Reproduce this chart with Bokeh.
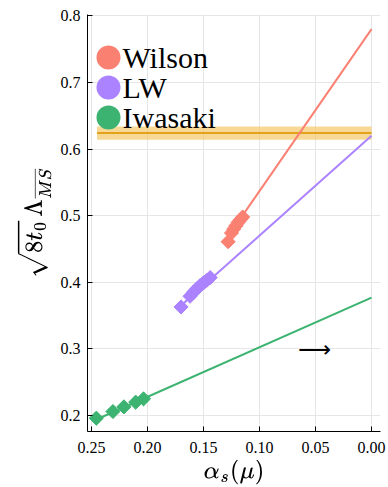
import numpy as np
from bokeh.plotting import figure
from bokeh.models import Range1d, Label, BoxAnnotation, FixedTicker
from bokeh.embed import file_html
from bokeh.resources import INLINE

# ---------------- data ----------------
names = ["Wilson", "LW", "Iwasaki"]

wilson_alpha = [0.128, 0.125, 0.123, 0.121, 0.119, 0.117, 0.115]
wilson_val = [0.461, 0.474, 0.480, 0.485, 0.490, 0.494, 0.498]

lw_alpha = [0.170, 0.162, 0.159, 0.156, 0.153, 0.150, 0.147, 0.144]
lw_val = [0.363, 0.379, 0.385, 0.390, 0.395, 0.399, 0.403, 0.407]

iw_alpha = [0.2456, 0.2308, 0.221, 0.2105, 0.2035]
iw_val = [0.196, 0.206, 0.213, 0.220, 0.225]

# continuum extrapolation: value at alpha=0 and slope d(value)/d(alpha)
fit_intercept = [0.780, 0.620, 0.377]
fit_slope = [-2.43, -1.50, -0.745]

# reference band
ref_value = 0.624
ref_error = 0.010
ref_alpha_span = [0.245, 0.0]

x_ticks = [0.25, 0.20, 0.15, 0.10, 0.05, 0.00]
x_tick_labels = ["0.25", "0.20", "0.15", "0.10", "0.05", "0.00"]
y_ticks = [0.2, 0.3, 0.4, 0.5, 0.6, 0.7, 0.8]
y_tick_labels = ["0.2", "0.3", "0.4", "0.5", "0.6", "0.7", "0.8"]

# ---------------- style ----------------
colors = ["#FA8072", "#AB82FF", "#3CB371"]
serif = "Liberation Serif"

p = figure(frame_width=293, frame_height=417, output_backend="svg", toolbar_location=None,
           x_range=Range1d(0.2535, -0.008), y_range=Range1d(0.176, 0.802),
           min_border_left=87, min_border_right=8, min_border_top=14, min_border_bottom=56)
p.outline_line_color = None
p.background_fill_color = "white"
p.border_fill_color = "white"

for g in (p.xgrid, p.ygrid):
    g.grid_line_color = "#e6e6e6"
    g.grid_line_width = 1

p.xaxis.ticker = FixedTicker(ticks=x_ticks)
p.yaxis.ticker = FixedTicker(ticks=y_ticks)
p.xaxis.major_label_overrides = {t: l for t, l in zip(x_ticks, x_tick_labels)}
p.yaxis.major_label_overrides = {t: l for t, l in zip(y_ticks, y_tick_labels)}
for ax in (p.xaxis, p.yaxis):
    ax.minor_tick_line_color = None
    ax.major_tick_in = 5
    ax.major_tick_out = 0
    ax.axis_line_color = "black"
    ax.major_tick_line_color = "black"
    ax.major_label_text_font = serif
    ax.major_label_text_font_size = "16px"
    ax.major_label_text_color = "black"
    ax.axis_label_text_font_size = "21px"
    ax.axis_label_text_font_style = "normal"
    ax.axis_label_text_color = "black"
p.xaxis.major_label_standoff = 10
p.yaxis.major_label_standoff = 7
p.xaxis.axis_label_standoff = 4
p.yaxis.axis_label_standoff = 6
p.xaxis.axis_label = r"$$\alpha_s(\mu)$$"
p.yaxis.axis_label = r"$$\sqrt{8t_0}\,\Lambda_{\overline{MS}}$$"

# reference band
p.quad(left=[ref_alpha_span[0]], right=[ref_alpha_span[1]],
       bottom=[ref_value - ref_error], top=[ref_value + ref_error],
       fill_color="#F2C55C", fill_alpha=0.65, line_color=None)
p.line(x=ref_alpha_span, y=[ref_value, ref_value], line_color="#E3A21A", line_width=2)

series = [(wilson_alpha, wilson_val), (lw_alpha, lw_val), (iw_alpha, iw_val)]
for (a, v), c, b0, b1 in zip(series, colors, fit_intercept, fit_slope):
    xs = np.array([max(a), 0.0])
    p.line(x=xs, y=b0 + b1 * xs, line_color=c, line_width=2)
    p.scatter(x=a, y=v, marker="square", angle=np.pi / 4, size=10,
              fill_color=c, line_color=c)

# legend (drawn by hand, frame-relative screen units)
for i, (n, c) in enumerate(zip(names, colors)):
    cy = 374 - 30 * i
    p.add_layout(BoxAnnotation(left=9, right=33, bottom=cy - 12, top=cy + 12,
                               left_units="screen", right_units="screen",
                               bottom_units="screen", top_units="screen",
                               border_radius=12, fill_color=c, fill_alpha=1.0,
                               line_color=None))
    p.add_layout(Label(x=35, y=cy, x_units="screen", y_units="screen", text=n,
                       text_font=serif, text_font_size="30px", text_color="black",
                       text_baseline="alphabetic"))

# arrow annotation
p.add_layout(Label(x=0.051, y=0.30, text="⟶", text_font="DejaVu Sans",
                   text_font_size="23px", text_color="black",
                   text_align="center", text_baseline="middle"))

open("out.html", "w").write(file_html(p, INLINE))
